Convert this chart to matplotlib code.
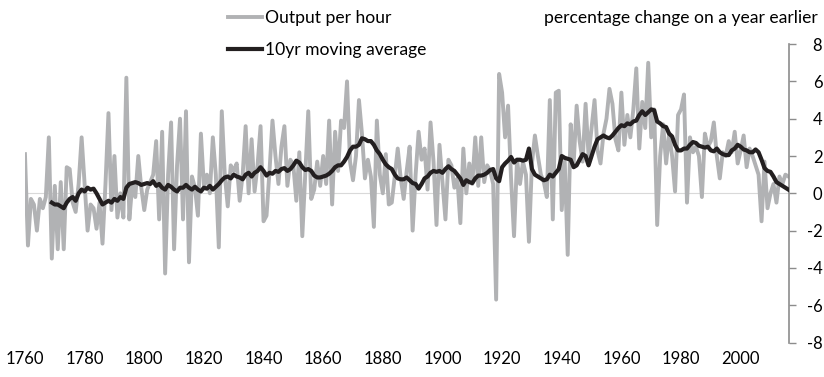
import matplotlib
matplotlib.use("Agg")
import matplotlib.pyplot as plt

plt.rcParams['font.family'] = ['Lato', 'DejaVu Sans']

years = list(range(1760, 2017))

# annual % change in output per hour
output_per_hour = [
    2.1, -2.8, -0.3, -0.6, -2.0, -0.3, -0.8, -0.2, 3.0, -3.5,
    0.4, -3.0, 0.6, -3.0, 1.4, 1.3, -0.5, -1.0, 0.5, 3.0,
    0.5, -2.0, -0.6, -0.8, -1.9, -0.5, -2.7, 0.5, 4.3, -0.9,
    2.0, -1.3, 0.0, -1.3, 6.2, -1.4, 0.5, -0.2, 2.0, 0.3,
    -0.9, 0.2, 0.6, 1.0, 2.8, -1.4, 3.3, -4.3, 1.0, 3.8,
    -3.0, 1.5, 4.0, -1.4, 4.4, -3.7, 0.9, 0.3, -1.2, 3.2,
    0.4, 1.0, 0.0, 3.0, 1.0, -2.9, 4.4, 1.0, -0.7, 1.5,
    1.2, 1.6, -0.4, 1.0, 3.6, 0.0, 2.9, 0.1, 1.5, 3.6,
    -1.5, -1.2, 1.2, 3.9, 2.0, 0.5, 2.5, 3.6, 0.4, 1.8,
    1.5, -0.4, 2.2, -2.3, 1.0, 4.4, -0.3, 0.2, 1.7, 0.4,
    2.0, 0.5, 3.9, -0.6, 3.3, 1.2, 3.9, 3.5, 6.0, 1.7,
    0.7, 2.0, 5.0, 3.2, 0.8, 1.8, 0.9, -1.8, 3.9, 1.0,
    0.0, 2.1, -0.6, -0.5, 0.9, 2.4, 0.8, -0.3, 1.2, 2.5,
    -2.0, 1.0, 3.3, 1.8, 2.4, 0.2, 3.8, 1.7, -1.7, 2.6,
    0.6, -1.4, 1.8, 1.5, 0.3, 0.8, -1.6, 2.4, 0.0, 1.6,
    0.5, 3.0, 0.4, 3.0, 0.6, 1.5, 1.2, 0.5, -5.7, 6.4,
    5.4, 3.0, 4.7, 0.8, -2.3, 1.8, 0.5, 1.7, 1.0, -2.6,
    1.6, 3.1, 2.0, 1.0, 0.6, -0.2, 5.0, -1.4, 5.4, 5.5,
    -0.9, 1.7, -3.3, 3.7, 1.6, 4.7, 2.8, 1.7, 4.8, 2.0,
    3.5, 5.0, 2.3, 1.6, 3.2, 4.0, 5.6, 4.8, 2.9, 2.3,
    5.4, 2.6, 4.2, 3.0, 4.5, 6.7, 2.4, 4.9, 3.5, 7.0,
    3.0, 4.5, -1.7, 2.0, 3.7, 1.6, 3.2, 2.0, 0.1, 4.2,
    4.5, 5.3, -0.5, 3.0, 2.2, 2.5, 2.0, -0.2, 3.2, 2.5,
    2.8, 3.8, 2.0, 0.8, 2.2, 2.0, 2.8, 2.2, 3.3, 1.6,
    2.3, 3.1, 1.4, 2.4, 2.0, 1.5, 1.0, -1.5, 1.7, -0.8,
    0.0, 0.5, -0.5, 0.9, 0.5, 1.0, 0.9,
]

ma_years = list(range(1769, 2017))

# 10yr moving average, first value in 1769
moving_avg = [
    -0.5,
    -0.6, -0.6, -0.7, -0.8, -0.5, -0.3, -0.2, -0.4, 0.0, 0.2,
    0.1, 0.3, 0.2, 0.25, 0.0, -0.3, -0.6, -0.5, -0.4, -0.5,
    -0.3, -0.4, -0.2, -0.3, 0.3, 0.5, 0.55, 0.6, 0.55, 0.45,
    0.5, 0.55, 0.5, 0.65, 0.4, 0.5, 0.3, 0.2, 0.45, 0.35,
    0.2, 0.1, 0.3, 0.3, 0.45, 0.3, 0.2, 0.35, 0.2, 0.1,
    0.3, 0.25, 0.4, 0.2, 0.35, 0.5, 0.7, 0.85, 0.9, 0.8,
    1.0, 0.9, 0.85, 0.75, 1.0, 1.1, 0.9, 1.1, 1.2, 1.4,
    1.2, 0.95, 1.1, 1.05, 1.2, 1.15, 1.3, 1.35, 1.2, 1.3,
    1.5, 1.75, 1.65, 1.4, 1.25, 1.3, 1.2, 0.95, 0.85, 0.85,
    0.9, 0.95, 1.05, 1.2, 1.4, 1.5, 1.5, 1.7, 1.95, 2.3,
    2.5, 2.5, 2.6, 2.95, 2.9, 2.8, 2.8, 2.6, 2.3, 2.1,
    1.8, 1.55, 1.4, 1.3, 1.0, 0.8, 0.75, 0.75, 0.85, 0.7,
    0.55, 0.5, 0.25, 0.5, 0.8, 0.9, 1.1, 1.2, 1.15, 1.2,
    1.1, 1.3, 1.45, 1.3, 1.2, 1.0, 0.8, 0.45, 0.7, 0.6,
    0.55, 0.8, 0.95, 0.95, 1.0, 1.1, 1.25, 1.3, 0.8, 0.65,
    1.4, 1.6, 1.75, 1.95, 1.65, 1.8, 1.8, 1.75, 1.8, 2.4,
    1.3, 1.0, 0.9, 0.8, 0.7, 0.75, 1.0, 0.9, 1.1, 1.3,
    2.0, 1.9, 1.85, 1.8, 1.4, 1.5, 1.8, 2.1, 2.0, 1.5,
    2.0, 2.5, 2.9, 3.0, 3.1, 3.0, 2.95, 3.1, 3.3, 3.5,
    3.65, 3.6, 3.75, 3.7, 3.85, 3.9, 4.2, 4.4, 4.2, 4.35,
    4.5, 4.45, 3.85, 3.75, 3.6, 3.55, 3.2, 3.05, 2.6, 2.3,
    2.3, 2.4, 2.4, 2.6, 2.75, 2.7, 2.55, 2.5, 2.45, 2.5,
    2.3, 2.25, 2.4, 2.2, 2.1, 2.05, 2.05, 2.3, 2.4, 2.6,
    2.5, 2.35, 2.3, 2.2, 2.2, 2.35, 2.2, 1.8, 1.35, 1.2,
    1.15, 0.9, 0.6, 0.5, 0.4, 0.3, 0.2,
]

xticks = list(range(1760, 2001, 20))
yticks = list(range(-8, 9, 2))

fig = plt.figure(figsize=(8.24, 3.77), dpi=100)
ax = fig.add_axes([0.0303, 0.0915, 0.9272, 0.7915])

ax.axhline(0, color='#d9d9d9', lw=0.8, zorder=1)
ax.plot(years, output_per_hour, color='#b1b2b4', lw=2.8, zorder=2,
        solid_joinstyle='round', label='Output per hour')
ax.plot(ma_years, moving_avg, color='#231f20', lw=3.0, zorder=3,
        solid_joinstyle='round', label='10yr moving average')

ax.set_xlim(1760, 2016.2)
ax.set_ylim(-8, 8)

for side in ['left', 'top', 'bottom']:
    ax.spines[side].set_visible(False)
ax.spines['right'].set_color('#8c8c8c')
ax.spines['right'].set_linewidth(1.2)

ax.yaxis.tick_right()
ax.set_yticks(yticks)
ax.set_yticklabels([str(v) for v in yticks])
ax.tick_params(axis='y', direction='out', length=5, width=1, color='#8c8c8c',
               labelsize=12, pad=19)
for lab in ax.get_yticklabels():
    lab.set_horizontalalignment('right')

ax.set_xticks(xticks)
ax.set_xticklabels([str(v) for v in xticks])
ax.tick_params(axis='x', length=0, labelsize=12, pad=6)

fig.text(0.993, 0.953, 'percentage change on a year earlier', ha='right',
         va='center', fontsize=12.6)

ax.legend(loc='upper left', bbox_to_anchor=(0.262, 1.005),
          bbox_transform=fig.transFigure, frameon=False, fontsize=12.6,
          handlelength=1.95, handletextpad=0.15, labelspacing=0.9,
          borderaxespad=0.3)

fig.savefig('out.png', dpi=100)
